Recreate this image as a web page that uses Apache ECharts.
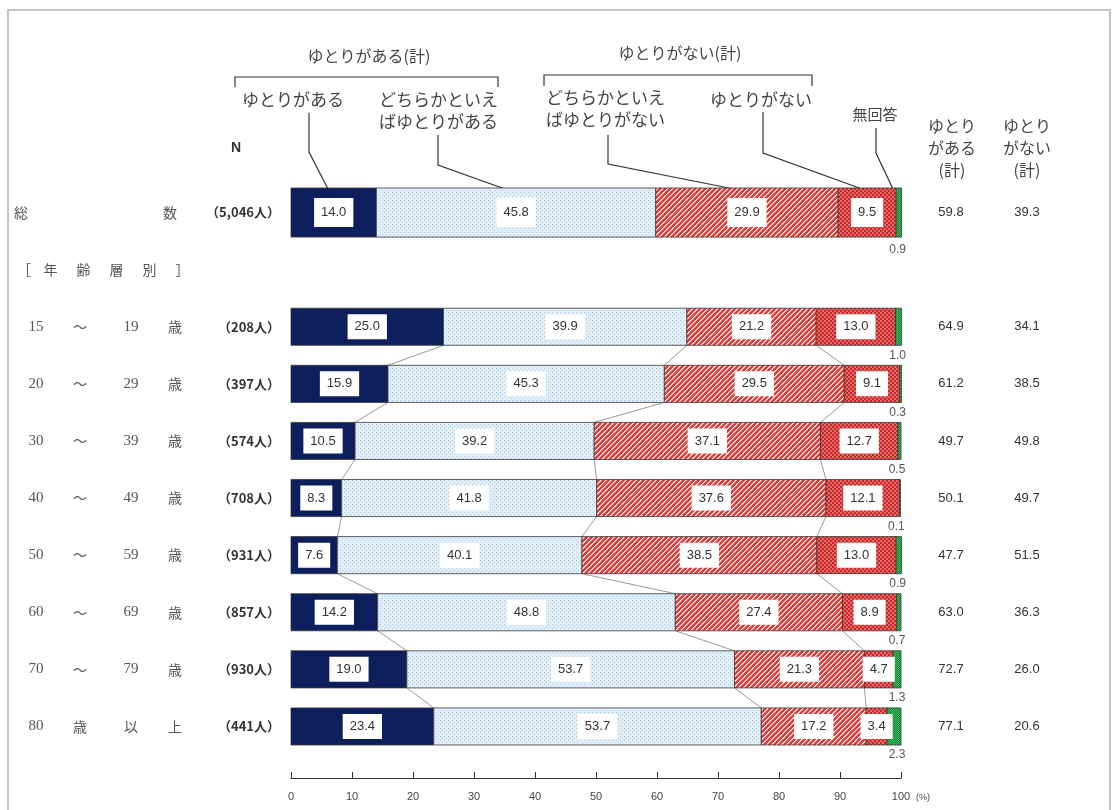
<!DOCTYPE html>
<html>
<head>
<meta charset="utf-8">
<script src="https://cdn.jsdelivr.net/npm/echarts@6/dist/echarts.min.js"></script>
<style>
    html, body { margin: 0; padding: 0; background: #fff; }
    #main { width: 1115px; height: 810px; }
</style>
</head>
<body>
<div id="main"></div>
<script>
    // 行ラベル（1行目=総数, 2行目=見出し行）
    var rowLabels = ['総数', '年齢層別', '15～19歳', '20～29歳', '30～39歳', '40～49歳',
        '50～59歳', '60～69歳', '70～79歳', '80歳以上'];
    var counts = ['5,046', '', '208', '397', '574', '708', '931', '857', '930', '441'];

    var segNames = ['ゆとりがある', 'どちらかといえばゆとりがある', 'どちらかといえばゆとりがない', 'ゆとりがない', '無回答'];
    var yutoriAru  = [14.0, null, 25.0, 15.9, 10.5,  8.3,  7.6, 14.2, 19.0, 23.4];
    var dochiraAru = [45.8, null, 39.9, 45.3, 39.2, 41.8, 40.1, 48.8, 53.7, 53.7];
    var dochiraNai = [29.9, null, 21.2, 29.5, 37.1, 37.6, 38.5, 27.4, 21.3, 17.2];
    var yutoriNai  = [ 9.5, null, 13.0,  9.1, 12.7, 12.1, 13.0,  8.9,  4.7,  3.4];
    var muKaito    = [ 0.9, null,  1.0,  0.3,  0.5,  0.1,  0.9,  0.7,  1.3,  2.3];
    var aruKei     = [59.8, null, 64.9, 61.2, 49.7, 50.1, 47.7, 63.0, 72.7, 77.1];
    var naiKei     = [39.3, null, 34.1, 38.5, 49.8, 49.7, 51.5, 36.3, 26.0, 20.6];

    var segs = [yutoriAru, dochiraAru, dochiraNai, yutoriNai, muKaito];
    var CJK = '"Noto Sans CJK JP"';

    // 塗りパターン（canvasで作る）
    function hex(c) { return [parseInt(c.substr(1, 2), 16), parseInt(c.substr(3, 2), 16), parseInt(c.substr(5, 2), 16)]; }
    function pattern(w, h, fn) {
        var c = document.createElement('canvas');
        c.width = w; c.height = h;
        var ctx = c.getContext('2d');
        var img = ctx.createImageData(w, h);
        for (var y = 0; y < h; y++) {
            for (var x = 0; x < w; x++) {
                var rgb = hex(fn(x, y));
                var p = (y * w + x) * 4;
                img.data[p] = rgb[0]; img.data[p + 1] = rgb[1]; img.data[p + 2] = rgb[2]; img.data[p + 3] = 255;
            }
        }
        ctx.putImageData(img, 0, 0);
        return { image: c, repeat: 'repeat' };
    }
    var fills = [
        '#0c1e5b',
        pattern(4, 4, function (x, y) { return ((x === 0 && y === 0) || (x === 2 && y === 2)) ? '#9fc5e6' : '#e3eff9'; }),
        pattern(5, 5, function (x, y) { var m = (x + y) % 5; return m === 0 ? '#ffffff' : (m === 1 ? '#f3a29e' : '#e23c3b'); }),
        pattern(4, 4, function (x, y) { return ((x >> 1) + (y >> 1)) % 2 ? '#bf2a2d' : '#ec6664'; }),
        pattern(2, 2, function (x, y) { return (x + y) % 2 ? '#108a35' : '#3fb85c'; })
    ];

    function barHeight(row, band) { return row === 0 ? band * 0.86 : band * 0.65; }

    function segRender(k) {
        return function (params, api) {
            var row = api.value(2);
            var p0 = api.coord([api.value(0), row]);
            var p1 = api.coord([api.value(1), row]);
            var band = api.size([0, 1])[1];
            var h = barHeight(row, band);
            var top = p0[1] - h / 2;
            var txt = api.value(3).toFixed(1);
            var children = [{
                type: 'rect',
                shape: { x: p0[0], y: top, width: p1[0] - p0[0], height: h },
                style: { fill: fills[k], stroke: '#3a3a3a', lineWidth: 0.8 }
            }];
            if (k < 4) {
                children.push({
                    type: 'text', z2: 10,
                    style: {
                        text: txt, x: (p0[0] + p1[0]) / 2, y: p0[1],
                        align: 'center', verticalAlign: 'middle',
                        font: '13px "Liberation Sans"', fill: '#333',
                        backgroundColor: '#fff', padding: row === 0 ? [8, 7] : [6, 7]
                    }
                });
            } else {
                children.push({
                    type: 'text', z2: 10,
                    style: {
                        text: txt, x: p1[0] - 4, y: top + h + (row === 0 ? 13 : 10),
                        align: 'center', verticalAlign: 'middle',
                        font: '12px "Liberation Sans"', fill: '#555'
                    }
                });
            }
            return { type: 'group', children: children };
        };
    }

    var series = segs.map(function (arr, k) {
        var data = [];
        arr.forEach(function (v, i) {
            if (v == null) return;
            var start = 0;
            for (var j = 0; j < k; j++) start += segs[j][i];
            data.push([start, start + v, i, v]);
        });
        return {
            name: segNames[k], type: 'custom', z: 3,
            renderItem: segRender(k),
            encode: { x: [0, 1], y: 2 },
            data: data
        };
    });

    // 年齢層の間をつなぐ線（累積境界）
    var linkData = [];
    for (var i = 2; i < rowLabels.length - 1; i++) {
        var a = [], b = [], s1 = 0, s2 = 0;
        for (var j = 0; j < 3; j++) { s1 += segs[j][i]; s2 += segs[j][i + 1]; a.push(s1); b.push(s2); }
        linkData.push([i, a[0], a[1], a[2], b[0], b[1], b[2]]);
    }
    series.push({
        type: 'custom', z: 2,
        renderItem: function (params, api) {
            var row = api.value(0);
            var band = api.size([0, 1])[1];
            var h = barHeight(row, band);
            var lines = [];
            for (var m = 0; m < 3; m++) {
                var p = api.coord([api.value(1 + m), row]);
                var q = api.coord([api.value(4 + m), row + 1]);
                lines.push({
                    type: 'line',
                    shape: { x1: p[0], y1: p[1] + h / 2, x2: q[0], y2: q[1] - h / 2 },
                    style: { stroke: '#9a9a9a', lineWidth: 1 }
                });
            }
            return { type: 'group', children: lines };
        },
        encode: { x: [1, 2, 3], y: 0 },
        data: linkData
    });

    function leftLabel(value, index) {
        var n = counts[index] ? '{n|（' + counts[index] + '人）}' : '';
        if (index === 0) return '{t|総}{u|数}' + n;
        if (index === 1) return '{h0|［}{h|年}{h|齢}{h|層}{h|別}{h|］}{hf| }';
        var m = value.match(/^(\d+)～(\d+)歳$/);
        if (m) return '{a|' + m[1] + '}{k|～}{c|' + m[2] + '}{d|歳}' + n;
        var m2 = value.match(/^(\d+)(歳)(以)(上)$/);
        return '{a|' + m2[1] + '}{k|' + m2[2] + '}{c2|' + m2[3] + '}{d|' + m2[4] + '}' + n;
    }

    var myChart = echarts.init(document.getElementById('main'));
    var option = {
        animation: false,
        backgroundColor: '#fff',
        grid: { left: 291, top: 184, width: 610, height: 571 },
        xAxis: {
            type: 'value', min: 0, max: 100, interval: 10,
            offset: 23,
            axisLine: { show: true, lineStyle: { color: '#333', width: 1 } },
            axisTick: { show: true, inside: true, length: 6, lineStyle: { color: '#333' } },
            splitLine: { show: false },
            axisLabel: { fontSize: 11, color: '#444', margin: 13, fontFamily: 'Liberation Sans' },
            name: '(%)', nameLocation: 'end', nameGap: 14,
            nameTextStyle: { fontSize: 9, color: '#444', verticalAlign: 'top', padding: [15, 0, 0, 0] }
        },
        yAxis: [{
            type: 'category', inverse: true, data: rowLabels,
            axisLine: { show: false }, axisTick: { show: false },
            axisLabel: {
                margin: 11, formatter: leftLabel,
                rich: {
                    a: { width: 44, align: 'center', fontFamily: 'Liberation Serif', fontSize: 15, color: '#555' },
                    k: { width: 44, align: 'center', fontFamily: CJK, fontSize: 14, color: '#555' },
                    c: { width: 58, align: 'center', fontFamily: 'Liberation Serif', fontSize: 15, color: '#555' },
                    c2: { width: 58, align: 'center', fontFamily: CJK, fontSize: 14, color: '#555' },
                    d: { width: 30, align: 'center', fontFamily: CJK, fontSize: 14, color: '#555' },
                    n: { width: 90, align: 'right', fontFamily: CJK, fontSize: 13, fontWeight: 'bold', color: '#333' },
                    t: { width: 136, align: 'left', fontFamily: CJK, fontSize: 14, color: '#555' },
                    u: { width: 40, align: 'center', fontFamily: CJK, fontSize: 14, color: '#555' },
                    h0: { width: 20, align: 'center', fontFamily: CJK, fontSize: 14, color: '#555' },
                    h: { width: 33, align: 'center', fontFamily: CJK, fontSize: 14, color: '#555' },
                    hf: { width: 81 }
                }
            }
        }, {
            type: 'category', inverse: true, data: rowLabels, position: 'right',
            axisLine: { show: false }, axisTick: { show: false },
            axisLabel: {
                margin: 12,
                formatter: function (value, index) {
                    if (aruKei[index] == null) return '';
                    return '{p|' + aruKei[index].toFixed(1) + '}{q|' + naiKei[index].toFixed(1) + '}';
                },
                rich: {
                    p: { width: 76, align: 'center', fontFamily: 'Liberation Sans', fontSize: 13, color: '#333' },
                    q: { width: 76, align: 'center', fontFamily: 'Liberation Sans', fontSize: 13, color: '#333' }
                }
            }
        }],
        graphic: [
            { type: 'rect', shape: { x: 8, y: 10, width: 1102, height: 840 }, style: { fill: 'none', stroke: '#b4b4b4', lineWidth: 1.5 }, silent: true },
            // 括弧
            { type: 'polyline', shape: { points: [[235, 87], [235, 77], [498, 77], [498, 87]] }, style: { stroke: '#333', lineWidth: 1.2, fill: 'none' } },
            { type: 'polyline', shape: { points: [[544, 86], [544, 75], [812, 75], [812, 86]] }, style: { stroke: '#333', lineWidth: 1.2, fill: 'none' } },
            { type: 'text', style: { text: 'ゆとりがある(計)', x: 369, y: 56, align: 'center', verticalAlign: 'middle', font: '16px ' + CJK, fill: '#444' } },
            { type: 'text', style: { text: 'ゆとりがない(計)', x: 680, y: 53, align: 'center', verticalAlign: 'middle', font: '16px ' + CJK, fill: '#444' } },
            // 項目名
            { type: 'text', style: { text: 'ゆとりがある', x: 293, y: 100, align: 'center', verticalAlign: 'middle', font: '17px ' + CJK, fill: '#444' } },
            { type: 'text', style: { text: 'どちらかといえ\nばゆとりがある', x: 498, y: 111, align: 'right', verticalAlign: 'middle', lineHeight: 22, font: '17px ' + CJK, fill: '#444' } },
            { type: 'text', style: { text: 'どちらかといえ\nばゆとりがない', x: 546, y: 109, align: 'left', verticalAlign: 'middle', lineHeight: 22, font: '17px ' + CJK, fill: '#444' } },
            { type: 'text', style: { text: 'ゆとりがない', x: 761, y: 100, align: 'center', verticalAlign: 'middle', font: '17px ' + CJK, fill: '#444' } },
            { type: 'text', style: { text: '無回答', x: 875, y: 114, align: 'center', verticalAlign: 'middle', font: '15px ' + CJK, fill: '#444' } },
            { type: 'text', style: { text: 'N', x: 236, y: 148, align: 'center', verticalAlign: 'middle', font: 'bold 14px "Liberation Sans"', fill: '#333' } },
            { type: 'text', style: { text: 'ゆとり\nがある\n(計)', x: 952, y: 148, align: 'center', verticalAlign: 'middle', lineHeight: 22, font: '16px ' + CJK, fill: '#444' } },
            { type: 'text', style: { text: 'ゆとり\nがない\n(計)', x: 1027, y: 148, align: 'center', verticalAlign: 'middle', lineHeight: 22, font: '16px ' + CJK, fill: '#444' } },
            // 引き出し線
            { type: 'polyline', shape: { points: [[309, 113], [309, 152], [328, 189]] }, style: { stroke: '#333', lineWidth: 1.2, fill: 'none' } },
            { type: 'polyline', shape: { points: [[438, 135], [438, 165], [505, 189]] }, style: { stroke: '#333', lineWidth: 1.2, fill: 'none' } },
            { type: 'polyline', shape: { points: [[608, 135], [608, 164], [734, 189]] }, style: { stroke: '#333', lineWidth: 1.2, fill: 'none' } },
            { type: 'polyline', shape: { points: [[763, 112], [763, 153], [862, 189]] }, style: { stroke: '#333', lineWidth: 1.2, fill: 'none' } },
            { type: 'polyline', shape: { points: [[876, 128], [876, 153], [893, 189]] }, style: { stroke: '#333', lineWidth: 1.2, fill: 'none' } }
        ],
        series: series
    };
    myChart.setOption(option);
</script>
</body>
</html>
